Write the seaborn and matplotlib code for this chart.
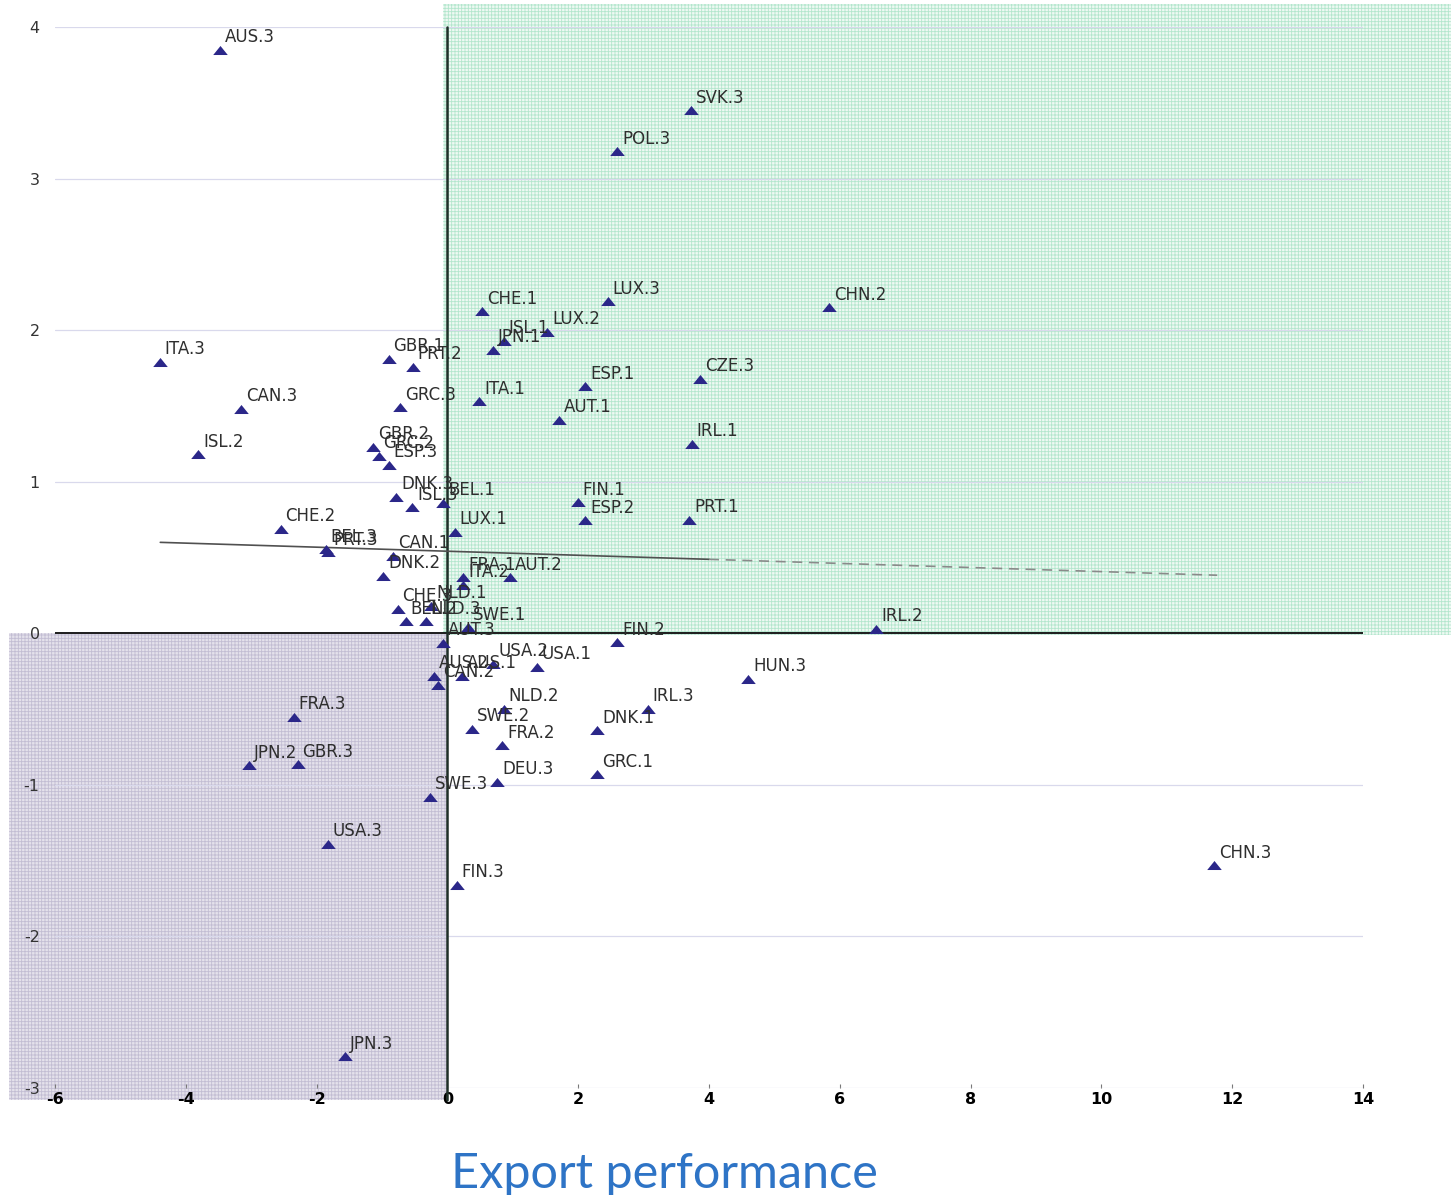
import matplotlib
matplotlib.use("Agg")
import matplotlib.pyplot as plt
import seaborn as sns
import pandas as pd
from matplotlib.patches import Rectangle

# Country / period codes and their coordinates
labels = [
    "AUS.3", "SVK.3", "POL.3", "CHE.1", "LUX.3", "CHN.2", "LUX.2", "ISL.1", "JPN.1", "GBR.1",
    "PRT.2", "ITA.3", "ESP.1", "CZE.3", "ITA.1", "GRC.3", "CAN.3", "AUT.1", "IRL.1", "GBR.2",
    "GRC.2", "ESP.3", "ISL.2", "DNK.3", "ISL.3", "BEL.1", "FIN.1", "ESP.2", "PRT.1", "CHE.2",
    "LUX.1", "BEL.3", "PRT.3", "CAN.1", "DNK.2", "FRA.1", "ITA.2", "AUT.2", "CHE.3", "NLD.1",
    "BEL.2", "NLD.3", "SWE.1", "IRL.2", "AUT.3", "FIN.2", "USA.2", "USA.1", "AUS.2", "AUS.1",
    "CAN.2", "HUN.3", "IRL.3", "NLD.2", "FRA.3", "SWE.2", "DNK.1", "FRA.2", "JPN.2", "GBR.3",
    "GRC.1", "DEU.3", "SWE.3", "USA.3", "CHN.3", "FIN.3", "JPN.3",
]
x_vals = [
    -3.48, 3.73, 2.60, 0.535, 2.45, 5.84, 1.53, 0.86, 0.69, -0.90,
    -0.53, -4.40, 2.11, 3.87, 0.49, -0.72, -3.15, 1.71, 3.74, -1.13,
    -1.05, -0.90, -3.81, -0.78, -0.54, -0.06, 1.99, 2.11, 3.70, -2.55,
    0.11, -1.86, -1.82, -0.83, -0.98, 0.24, 0.24, 0.96, -0.76, -0.245,
    -0.64, -0.33, 0.32, 6.56, -0.06, 2.60, 0.70, 1.37, -0.21, 0.23,
    -0.14, 4.60, 3.06, 0.86, -2.35, 0.38, 2.29, 0.84, -3.03, -2.29,
    2.29, 0.76, -0.26, -1.83, 11.72, 0.14, -1.56,
]
y_vals = [
    3.85, 3.45, 3.18, 2.125, 2.19, 2.15, 1.99, 1.93, 1.87, 1.81,
    1.76, 1.79, 1.63, 1.68, 1.53, 1.49, 1.48, 1.41, 1.25, 1.23,
    1.17, 1.11, 1.18, 0.90, 0.83, 0.86, 0.865, 0.745, 0.75, 0.69,
    0.67, 0.555, 0.535, 0.51, 0.38, 0.37, 0.32, 0.37, 0.16, 0.18,
    0.08, 0.08, 0.04, 0.03, -0.065, -0.06, -0.20, -0.22, -0.28, -0.28,
    -0.34, -0.30, -0.50, -0.50, -0.55, -0.63, -0.64, -0.74, -0.87, -0.865,
    -0.93, -0.98, -1.08, -1.39, -1.53, -1.66, -2.79,
]

# fitted line (solid part, then dashed part)
trend_solid_x = [-4.39, 4.0]
trend_solid_y = [0.60, 0.488]
trend_dash_x = [4.0, 11.77]
trend_dash_y = [0.488, 0.383]

x_ticks = [-6, -4, -2, 0, 2, 4, 6, 8, 10, 12, 14]
y_ticks = [-3, -2, -1, 0, 1, 2, 3, 4]

df = pd.DataFrame({"label": labels, "x": x_vals, "y": y_vals})

sns.set_theme(style="white")
plt.rcParams["axes.unicode_minus"] = False
plt.rcParams["hatch.linewidth"] = 0.6
plt.rcParams["font.family"] = ["DejaVu Sans"]

fig = plt.figure(figsize=(14.51, 11.95), dpi=100)
ax = fig.add_axes([55 / 1451, 1 - 1088 / 1195, (1363 - 55) / 1451, (1088 - 27) / 1195])
ax.set_xlim(-6, 14)
ax.set_ylim(-3, 4)

# shaded quadrants
ax.add_patch(Rectangle((-0.06, -0.01), 15.40, 4.16, facecolor="#eef9f3", edgecolor="#b3e6cd",
                       hatch="+++++", linewidth=0, zorder=0, clip_on=False))
ax.add_patch(Rectangle((-6.71, -3.08), 6.71, 3.08, facecolor="#e4e1eb", edgecolor="#c2bdd3",
                       hatch="+++++", linewidth=0, zorder=0, clip_on=False))

ax.set_axisbelow(True)
ax.grid(axis="y", color="#d9d9ec", linewidth=0.9)
ax.grid(axis="x", visible=False)
for s in ax.spines.values():
    s.set_visible(False)

# zero axes
ax.plot([-6, 14], [0, 0], color="#1c1c1c", lw=1.4, zorder=2)
ax.plot([0, 0], [-3.08, 4], color="#1f2f28", lw=1.8, zorder=2, clip_on=False)

# trend line
ax.plot(trend_solid_x, trend_solid_y, color="#505050", lw=1.2, zorder=2)
ax.plot(trend_dash_x, trend_dash_y, color="#8a8a8a", lw=1.2, ls=(0, (6, 4)), zorder=2)

tri = [(-1, -0.62), (1, -0.62), (0, 0.62)]
sns.scatterplot(data=df, x="x", y="y", marker=tri, s=110, color="#2b2789",
                linewidth=0, ax=ax, zorder=3, legend=False)

for lab, xv, yv in zip(labels, x_vals, y_vals):
    ax.annotate(lab, (xv, yv), xytext=(3.5, 5.5), textcoords="offset points",
                ha="left", va="baseline", fontsize=12, color="#2e2e2e", zorder=4)

ax.set_xticks(x_ticks)
ax.set_yticks(y_ticks)
ax.set_xticklabels([str(t) for t in x_ticks], fontweight="bold", fontsize=11.5, color="black")
ax.set_yticklabels([str(t) for t in y_ticks], fontsize=11.5, color="#333333")
ax.tick_params(axis="x", direction="in", length=3, width=0.8, color="#777777", pad=3,
               bottom=True)
ax.tick_params(axis="y", length=0, pad=11)
ax.set_xlabel("")
ax.set_ylabel("")

fig.text(664 / 1451, 1 - 1188 / 1195, "Export performance", ha="center", va="baseline",
         fontsize=35, color="#2e74c6", family=["Lato", "DejaVu Sans"])

fig.savefig("out.png", dpi=100)
